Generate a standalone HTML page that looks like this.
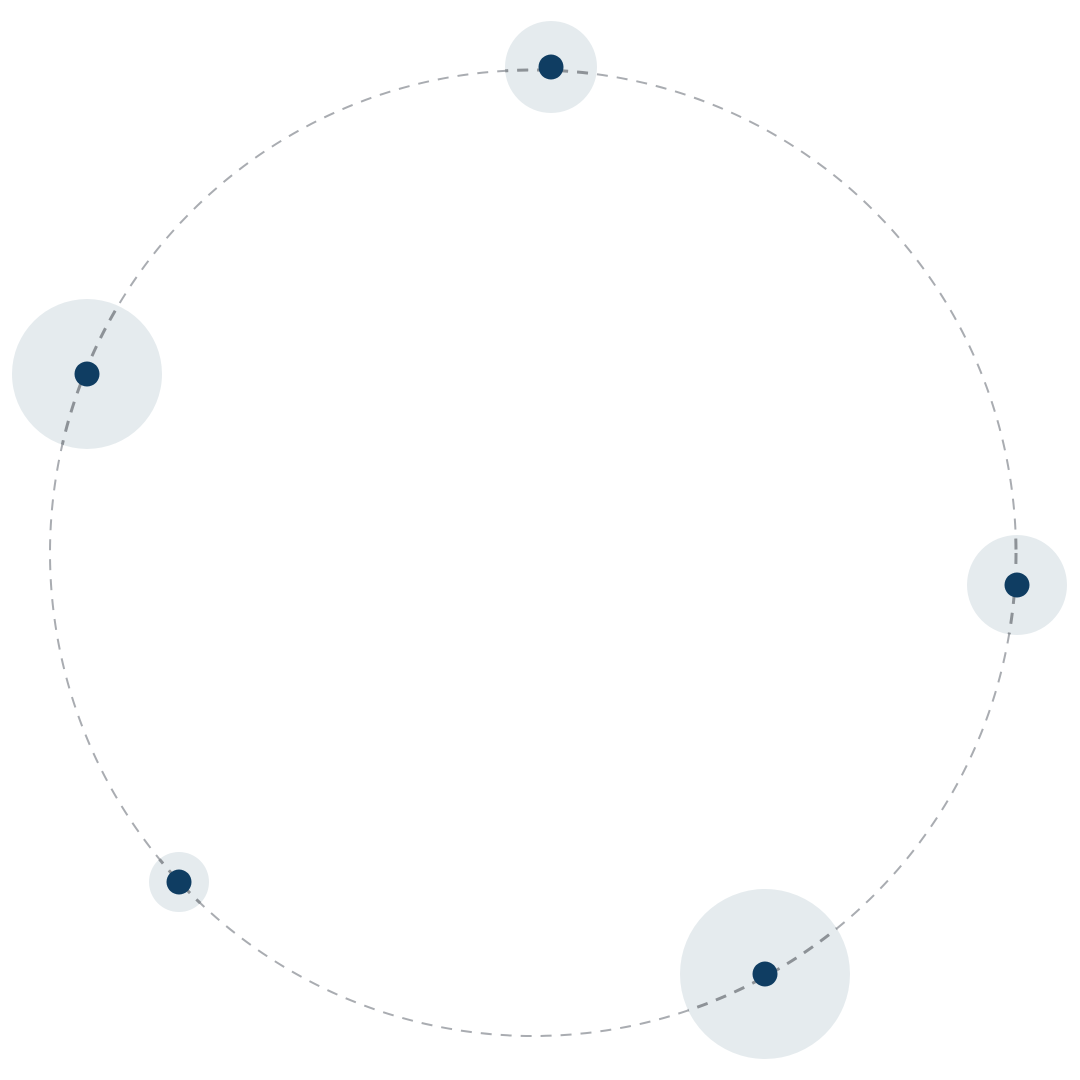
<!DOCTYPE html>
<html><head><style>html,body{margin:0;padding:0;background:#fff;width:1080px;height:1080px;overflow:hidden}</style></head>
<body>
<svg width="1080" height="1080" viewBox="0 0 1080 1080" xmlns="http://www.w3.org/2000/svg">
<defs>
<clipPath id="h">
<circle cx="551" cy="67" r="46"/>
<circle cx="87" cy="374" r="75"/>
<circle cx="1017" cy="585" r="50"/>
<circle cx="179" cy="882" r="30"/>
<circle cx="765" cy="974" r="85"/>
</clipPath>
</defs>
<rect width="1080" height="1080" fill="#fff"/>
<g fill="#e5ebee">
<circle cx="551" cy="67" r="46"/>
<circle cx="87" cy="374" r="75"/>
<circle cx="1017" cy="585" r="50"/>
<circle cx="179" cy="882" r="30"/>
<circle cx="765" cy="974" r="85"/>
</g>
<circle cx="533" cy="553" r="483" fill="none" stroke="#9a9ea3" stroke-width="2" stroke-dasharray="11 9" opacity="0.85"/>
<circle cx="533" cy="553" r="483" fill="none" stroke="#8d9297" stroke-width="3" stroke-dasharray="11 9" clip-path="url(#h)"/>
<g fill="#0f3d62">
<circle cx="551" cy="67" r="12.5"/>
<circle cx="87" cy="374" r="12.5"/>
<circle cx="1017" cy="585" r="12.5"/>
<circle cx="179" cy="882" r="12.5"/>
<circle cx="765" cy="974" r="12.5"/>
</g>
</svg>
</body></html>
